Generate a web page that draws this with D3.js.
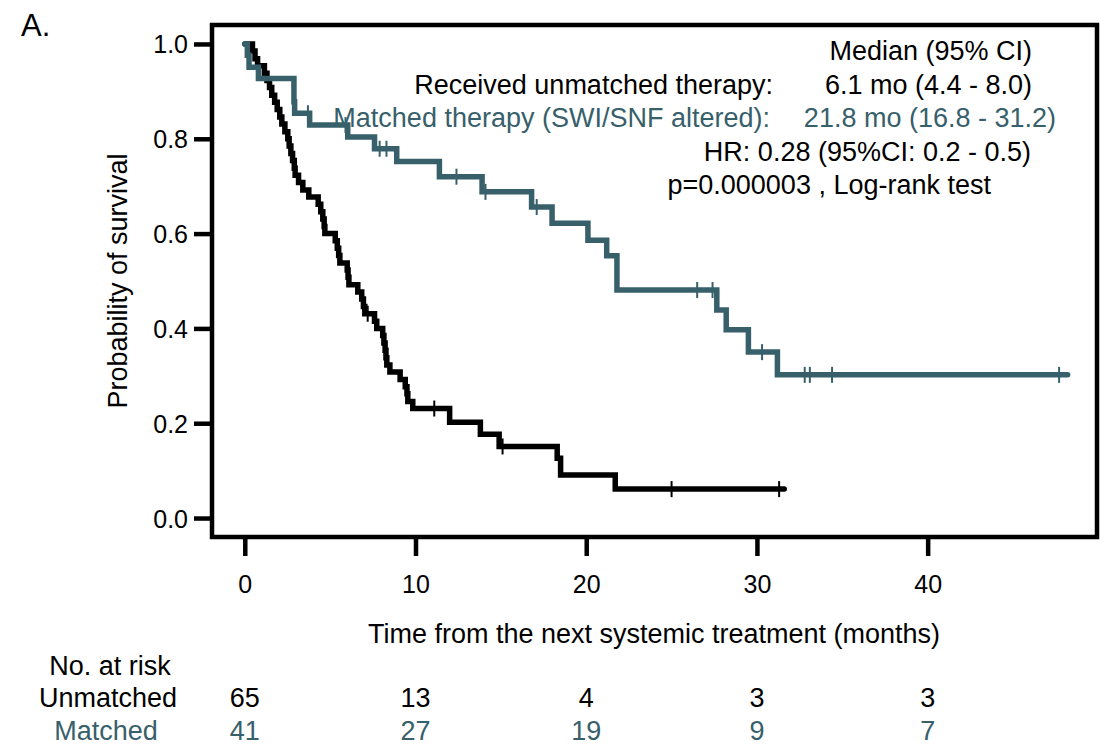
<!DOCTYPE html>
<html>
<head>
<meta charset="utf-8">
<script src="https://cdn.jsdelivr.net/npm/d3@7"></script>
<style>
  body { margin: 0; background: #fff; }
  text { font-family: "Liberation Sans", Arial, sans-serif; }
</style>
</head>
<body>
<svg id="chart" width="1104" height="745"></svg>
<script>
// Axis ticks
const xTicks = [0, 10, 20, 30, 40];
const yTicks = [0, 0.2, 0.4, 0.6, 0.8, 1.0];

// Received unmatched therapy: event times (months) and survival after each event
const unmatchedTimes = [0.45, 0.6, 0.75, 1.15, 1.3, 1.45, 1.58, 1.75, 1.9, 2.05, 2.17, 2.35, 2.52,
  2.6, 2.7, 2.8, 2.9, 2.95, 3.15, 3.4, 3.75, 4.3, 4.45, 4.57, 4.65, 4.69, 5.3, 5.42, 5.5, 5.57,
  6.0, 6.05, 6.1, 6.62, 6.85, 6.95, 7.03, 7.6, 7.73, 8.08, 8.15, 8.22, 8.27, 8.32, 8.5, 9.1,
  9.4, 9.5, 9.55, 9.84, 12.0, 13.8, 14.9, 18.3, 18.5, 21.7];
const unmatchedSurv = [0.985, 0.969, 0.954, 0.938, 0.923, 0.908, 0.892, 0.877, 0.862, 0.846, 0.831,
  0.815, 0.800, 0.785, 0.769, 0.754, 0.738, 0.723, 0.708, 0.692, 0.677, 0.662, 0.646, 0.631, 0.615,
  0.600, 0.585, 0.569, 0.554, 0.538, 0.523, 0.508, 0.492, 0.477, 0.462, 0.446, 0.431, 0.415, 0.400,
  0.385, 0.369, 0.354, 0.338, 0.323, 0.308, 0.292, 0.277, 0.262, 0.246, 0.231, 0.202, 0.177, 0.151,
  0.126, 0.091, 0.061];
const unmatchedCensor = [7.2, 11.1, 15.1, 25.0, 31.3];
const unmatchedEnd = 31.6;

// Matched therapy (SWI/SNF altered)
const matchedTimes = [0.15, 0.25, 0.8, 2.88, 2.92, 3.8, 6.03, 7.6, 8.9, 11.4, 13.9, 16.8, 18.0,
  20.1, 21.2, 21.8, 27.65, 28.2, 29.5, 31.2];
const matchedSurv = [0.976, 0.951, 0.927, 0.878, 0.854, 0.829, 0.804, 0.779, 0.752, 0.720, 0.688,
  0.656, 0.622, 0.586, 0.553, 0.481, 0.439, 0.397, 0.350, 0.302];
const matchedCensor = [3.7, 5.9, 7.9, 8.3, 12.4, 14.1, 17.1, 26.5, 27.4, 30.3, 32.8, 33.1, 34.4, 47.7];
const matchedEnd = 48.2;

// Numbers at risk
const riskTimes = [0, 10, 20, 30, 40];
const riskUnmatched = [65, 13, 4, 3, 3];
const riskMatched = [41, 27, 19, 9, 7];

const BLACK = "#000000";
const TEAL = "#37606b";
const FONT = 27;

const svg = d3.select("#chart");

const x = d3.scaleLinear().domain([-1.92, 49.92]).range([212, 1097]);
const y = d3.scaleLinear().domain([-0.04, 1.04]).range([537, 25]);

// Step function lookup for censor marks
function survAt(times, surv, t) {
  let s = 1;
  for (let i = 0; i < times.length; i++) if (times[i] <= t) s = surv[i];
  return s;
}

function stepPoints(times, surv, end) {
  const pts = [[0, 1]];
  times.forEach((t, i) => pts.push([t, surv[i]]));
  pts.push([end, surv[surv.length - 1]]);
  return pts;
}

const line = d3.line()
  .x(d => x(d[0]))
  .y(d => y(d[1]))
  .curve(d3.curveStepAfter);

// Curves
const series = [
  { times: unmatchedTimes, surv: unmatchedSurv, censor: unmatchedCensor, end: unmatchedEnd, color: BLACK },
  { times: matchedTimes, surv: matchedSurv, censor: matchedCensor, end: matchedEnd, color: TEAL }
];

series.forEach(s => {
  svg.append("path")
    .datum(stepPoints(s.times, s.surv, s.end))
    .attr("d", line)
    .attr("fill", "none")
    .attr("stroke", s.color)
    .attr("stroke-width", 5.5)
    .attr("stroke-linejoin", "miter")
    .attr("stroke-linecap", "round");
  svg.selectAll(null)
    .data(s.censor)
    .enter().append("line")
    .attr("x1", d => x(d)).attr("x2", d => x(d))
    .attr("y1", d => y(survAt(s.times, s.surv, d)) - 8)
    .attr("y2", d => y(survAt(s.times, s.surv, d)) + 8)
    .attr("stroke", s.color)
    .attr("stroke-width", 2);
});

// Plot frame
svg.append("rect")
  .attr("x", 212).attr("y", 25)
  .attr("width", 1097 - 212).attr("height", 537 - 25)
  .attr("fill", "none")
  .attr("stroke", "#000")
  .attr("stroke-width", 4.5);

// Y axis
const yAxis = svg.append("g")
  .attr("transform", "translate(212,0)")
  .call(d3.axisLeft(y).tickValues(yTicks).tickSize(18).tickPadding(6).tickFormat(d3.format(".1f")));
yAxis.select(".domain").remove();
yAxis.selectAll(".tick line").attr("stroke", "#000").attr("stroke-width", 4.5);
yAxis.selectAll(".tick text")
  .attr("font-size", 25)
  .attr("font-family", "Liberation Sans, Arial, sans-serif")
  .attr("fill", "#000")
  .attr("dy", "0.36em");

// X axis
const xAxis = svg.append("g")
  .attr("transform", "translate(0,537)")
  .call(d3.axisBottom(x).tickValues(xTicks).tickSize(19).tickFormat(d3.format("d")));
xAxis.select(".domain").remove();
xAxis.selectAll(".tick line").attr("stroke", "#000").attr("stroke-width", 4.5);
xAxis.selectAll(".tick text")
  .attr("font-size", 25)
  .attr("font-family", "Liberation Sans, Arial, sans-serif")
  .attr("fill", "#000")
  .attr("y", 56)
  .attr("dy", 0);

// Axis titles
svg.append("text")
  .attr("x", 654).attr("y", 643)
  .attr("text-anchor", "middle")
  .attr("font-size", FONT)
  .text("Time from the next systemic treatment (months)");

svg.append("text")
  .attr("transform", "translate(127,281) rotate(-90)")
  .attr("text-anchor", "middle")
  .attr("font-size", FONT)
  .text("Probability of survival");

// Panel label
svg.append("text")
  .attr("x", 21).attr("y", 36)
  .attr("font-size", 31)
  .text("A.");

// Legend block
const legend = [
  { text: "Median (95% CI)", x: 1032, y: 60, color: BLACK },
  { text: "Received unmatched therapy:", x: 773, y: 94, color: BLACK },
  { text: "6.1 mo (4.4 - 8.0)", x: 1032, y: 94, color: BLACK },
  { text: "Matched therapy (SWI/SNF altered):", x: 770, y: 127, color: TEAL },
  { text: "21.8 mo (16.8 - 31.2)", x: 1056, y: 127, color: TEAL },
  { text: "HR: 0.28 (95%CI: 0.2 - 0.5)", x: 1031, y: 161, color: BLACK },
  { text: "p=0.000003 , Log-rank test", x: 991, y: 194, color: BLACK }
];
svg.selectAll(null)
  .data(legend)
  .enter().append("text")
  .attr("x", d => d.x).attr("y", d => d.y)
  .attr("text-anchor", "end")
  .attr("font-size", FONT)
  .attr("fill", d => d.color)
  .text(d => d.text);

// Numbers at risk table
svg.append("text")
  .attr("x", 110).attr("y", 675)
  .attr("text-anchor", "middle")
  .attr("font-size", FONT)
  .text("No. at risk");
svg.append("text")
  .attr("x", 108).attr("y", 707)
  .attr("text-anchor", "middle")
  .attr("font-size", FONT)
  .text("Unmatched");
svg.append("text")
  .attr("x", 106).attr("y", 740)
  .attr("text-anchor", "middle")
  .attr("font-size", FONT)
  .attr("fill", TEAL)
  .text("Matched");

svg.selectAll(null)
  .data(riskTimes)
  .enter().append("text")
  .attr("x", d => x(d)).attr("y", 707)
  .attr("text-anchor", "middle")
  .attr("font-size", FONT)
  .text((d, i) => riskUnmatched[i]);

svg.selectAll(null)
  .data(riskTimes)
  .enter().append("text")
  .attr("x", d => x(d)).attr("y", 740)
  .attr("text-anchor", "middle")
  .attr("font-size", FONT)
  .attr("fill", TEAL)
  .text((d, i) => riskMatched[i]);
</script>
</body>
</html>
